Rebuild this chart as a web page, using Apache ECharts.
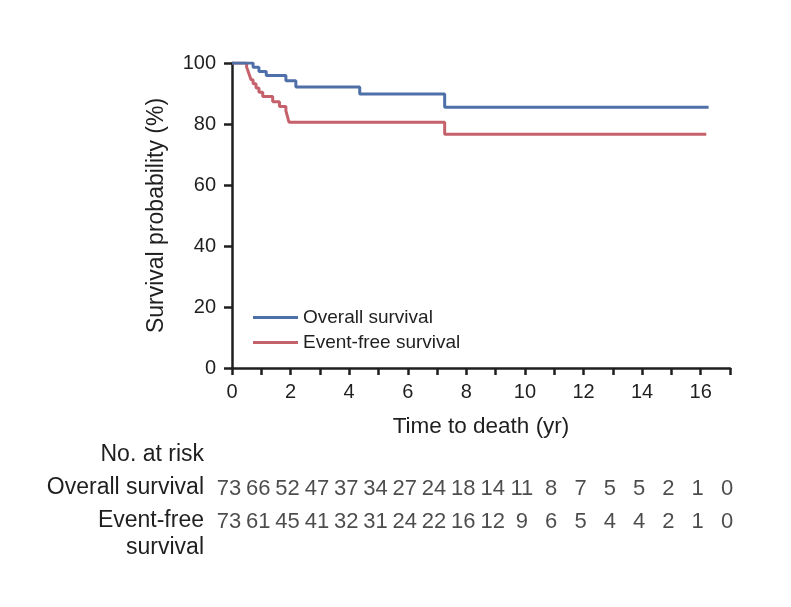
<!DOCTYPE html>
<html>
<head>
<meta charset="utf-8">
<script src="https://cdn.jsdelivr.net/npm/echarts@6/dist/echarts.min.js"></script>
<style>html,body{margin:0;padding:0;background:#fff;}#c{width:791px;height:607px;}</style>
</head>
<body>
<div id="c"></div>
<script>
var seriesNames = ['Overall survival', 'Event-free survival'];
var overallSurvival = [[0,100],[0.72,98.6],[0.92,97.2],[1.17,95.9],[1.84,94.2],[2.18,92.1],[4.36,89.8],[7.26,85.5],[16.27,85.5]];
var eventFreeSurvival = [[0,100],[0.5,98.6],[0.55,97.3],[0.6,95.9],[0.65,94.5],[0.72,93.2],[0.82,91.8],[0.92,90.4],[1.05,89.0],[1.39,87.3],[1.62,85.7],[1.84,84.3],[1.88,82.9],[1.92,81.5],[1.95,80.6],[7.26,76.6],[16.19,76.6]];
var riskYears = [0,1,2,3,4,5,6,7,8,9,10,11,12,13,14,15,16,17];
var riskOverall = [73,66,52,47,37,34,27,24,18,14,11,8,7,5,5,2,1,0];
var riskEventFree = [73,61,45,41,32,31,24,22,16,12,9,6,5,4,4,2,1,0];
var rowLabels = ['No. at risk', 'Overall survival', 'Event-free', 'survival'];
var xTitle = 'Time to death (yr)';
var yTitle = 'Survival probability (%)';

var FONT = "'Liberation Sans', Arial, sans-serif";
var BLUE = '#4f6fa8', RED = '#c5616b';
var INK = '#1f1f1f';

function riskData(arr){ return riskYears.map(function(y,i){ return [y,0,arr[i]]; }); }

var chart = echarts.init(document.getElementById('c'), null, {renderer:'canvas'});
var axisLine = {lineStyle:{color:INK, width:2.5}};
var hiddenX = function(g){ return {gridIndex:g, type:'value', min:0, max:17, show:false}; };
var hiddenY = function(g){ return {gridIndex:g, type:'value', min:-1, max:1, show:false}; };
var riskLabel = {show:true, position:'inside', formatter:function(p){return String(p.value[2]);}, fontSize:22, color:INK, fontFamily:FONT};

chart.setOption({
  animation:false,
  backgroundColor:'#fff',
  textStyle:{fontFamily:FONT},
  grid:[
    {left:232, right:61, top:63, bottom:239},
    {left:229, right:64, top:488, height:2},
    {left:229, right:64, top:521, height:2}
  ],
  legend:{
    data:seriesNames, orient:'vertical', left:248, top:303, itemWidth:45, itemHeight:3, itemGap:6,
    icon:'rect', textStyle:{fontSize:19, color:INK, fontFamily:FONT}
  },
  xAxis:[
    {gridIndex:0, type:'value', min:0, max:17, interval:1,
      name:xTitle, nameLocation:'middle', nameGap:47,
      nameTextStyle:{fontSize:22.5, color:INK, fontFamily:FONT},
      axisLine:axisLine, splitLine:{show:false},
      axisTick:{length:7, lineStyle:{color:INK, width:2.5}},
      axisLabel:{margin:14, fontSize:20, color:INK, fontFamily:FONT,
        formatter:function(v){ return (v%2===0 && v<=16) ? String(v) : ''; }}
    },
    hiddenX(1), hiddenX(2)
  ],
  yAxis:[
    {gridIndex:0, type:'value', min:0, max:100, interval:20,
      name:yTitle, nameLocation:'middle', nameGap:64, nameRotate:90,
      nameTextStyle:{fontSize:23, color:INK, fontFamily:FONT},
      axisLine:axisLine, splitLine:{show:false},
      axisTick:{length:8, lineStyle:{color:INK, width:2.5}},
      axisLabel:{margin:16, fontSize:20, color:INK, fontFamily:FONT}
    },
    hiddenY(1), hiddenY(2)
  ],
  graphic:[
    {type:'text', right:791-204, top:455-12, style:{text:rowLabels[0], font:'23px '+FONT, fill:INK, textAlign:'right'}},
    {type:'text', right:791-204, top:488-12, style:{text:rowLabels[1], font:'23px '+FONT, fill:INK, textAlign:'right'}},
    {type:'text', right:791-204, top:521-12, style:{text:rowLabels[2], font:'23px '+FONT, fill:INK, textAlign:'right'}},
    {type:'text', right:791-204, top:548-12, style:{text:rowLabels[3], font:'23px '+FONT, fill:INK, textAlign:'right'}}
  ],
  series:[
    {name:seriesNames[0], type:'line', xAxisIndex:0, yAxisIndex:0, step:'end', data:overallSurvival,
      showSymbol:false, symbol:'none', lineStyle:{color:BLUE, width:3}, itemStyle:{color:BLUE}, z:3},
    {name:seriesNames[1], type:'line', xAxisIndex:0, yAxisIndex:0, step:'end', data:eventFreeSurvival,
      showSymbol:false, symbol:'none', lineStyle:{color:RED, width:3}, itemStyle:{color:RED}, z:2},
    {type:'scatter', xAxisIndex:1, yAxisIndex:1, data:riskData(riskOverall), symbolSize:1,
      itemStyle:{color:'rgba(0,0,0,0)'}, label:riskLabel, silent:true},
    {type:'scatter', xAxisIndex:2, yAxisIndex:2, data:riskData(riskEventFree), symbolSize:1,
      itemStyle:{color:'rgba(0,0,0,0)'}, label:riskLabel, silent:true}
  ]
});
</script>
</body>
</html>
